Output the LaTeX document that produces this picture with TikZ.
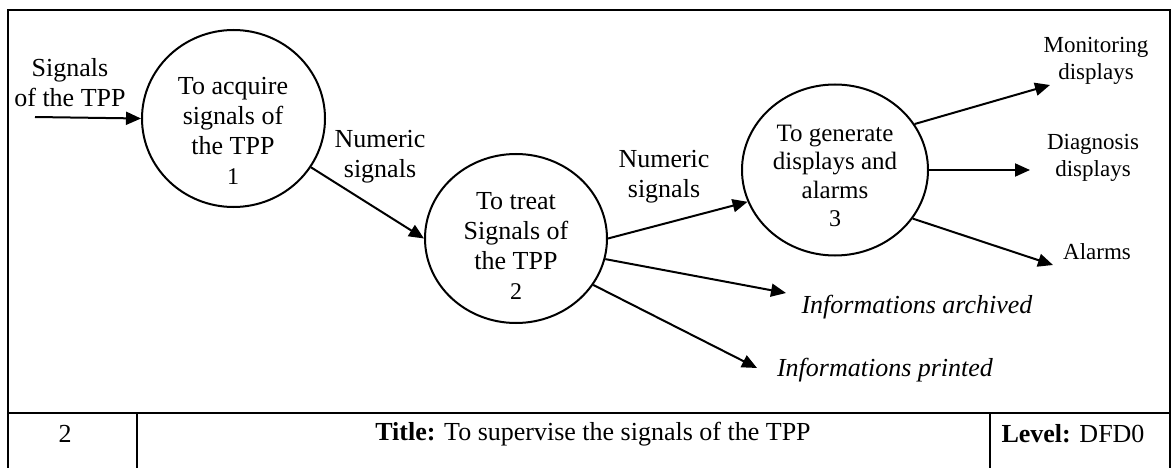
\documentclass[tikz,border=0pt]{standalone}
\usepackage{fontspec}
\setmainfont{Liberation Serif}
\usetikzlibrary{shapes,arrows.meta}

\begin{document}
\begin{tikzpicture}[x=1pt,y=-1pt]
	\tikzstyle{every node}=[font=\fontsize{26}{30}\selectfont, inner sep=0pt, align=center]
	\tikzstyle{process}=[draw, ellipse, line width=2pt]
	\tikzstyle{flow}=[line width=2pt, -{Triangle[length=15pt,width=13pt]}]
	\tikzstyle{sink}=[font=\fontsize{23}{27}\selectfont]
	\tikzstyle{store}=[font=\fontsize{26}{30}\selectfont\itshape]
	\tikzstyle{frame}=[line width=2pt]
	
	\useasboundingbox (0,0) rectangle (1171,468);
	
	% frame and title block
	\draw[frame] (8,470) -- (8,10) -- (1170,10) -- (1170,470);
	\draw[frame] (8,413) -- (1170,413);
	\draw[frame] (137,413) -- (137,470) (990,413) -- (990,470);
	\node (num) at (65,434) {2};
	\node (title) at (593,434) {\textbf{Title:} To supervise the signals of the TPP};
	\node (level) at (1073,434) {\textbf{Level:} DFD0};
	
	% processes
	\node[process, minimum width=183pt, minimum height=177pt] (p1) at (233.5,118.5) {};
	\node[process, minimum width=182pt, minimum height=169pt] (p2) at (516,238.5) {};
	\node[process, minimum width=186pt, minimum height=171pt] (p3) at (835,170) {};
	
	\node (t1) at (233,131) {To acquire\\signals of\\the TPP\\{\fontsize{24}{30}\selectfont 1}};
	\node (t2) at (516,246) {To treat\\Signals of\\the TPP\\{\fontsize{24}{30}\selectfont 2}};
	\node[font=\fontsize{25}{28.5}\selectfont] (t3) at (835,176) {To generate\\displays and\\alarms\\{\fontsize{24}{28.5}\selectfont 3}};
	
	% flows
	\coordinate (in) at (35,117);
	\node (lin) at (70,83) {Signals\\of the TPP};
	\draw[flow] (in) -- (p1.west);
	
	\node (l12) at (380,157) {Numeric\\signals};
	\draw[flow] (p1) -- (p2.west);
	
	\node (l23) at (664,177) {Numeric\\signals};
	\draw[flow] (p2.east) -- (p3.200);
	
	\coordinate (arc) at (786,293);
	\node[store] (sarc) at (917,307) {Informations archived};
	\draw[flow] (p2.-13) -- (arc);
	
	\coordinate (prt) at (757,368);
	\node[store] (sprt) at (885,370) {Informations printed};
	\draw[flow] (p2.-31) -- (prt);
	
	\coordinate (mon) at (1050,85);
	\node[sink] (smon) at (1096,61) {Monitoring\\displays};
	\draw[flow] (p3.30) -- (mon);
	
	\coordinate (dia) at (1030,170);
	\node[sink] (sdia) at (1093,158) {Diagnosis\\displays};
	\draw[flow] (p3.east) -- (dia);
	
	\coordinate (alm) at (1053,265);
	\node[sink] (salm) at (1097,252) {Alarms};
	\draw[flow] (p3.-32) -- (alm);
	
\end{tikzpicture}
\end{document}
